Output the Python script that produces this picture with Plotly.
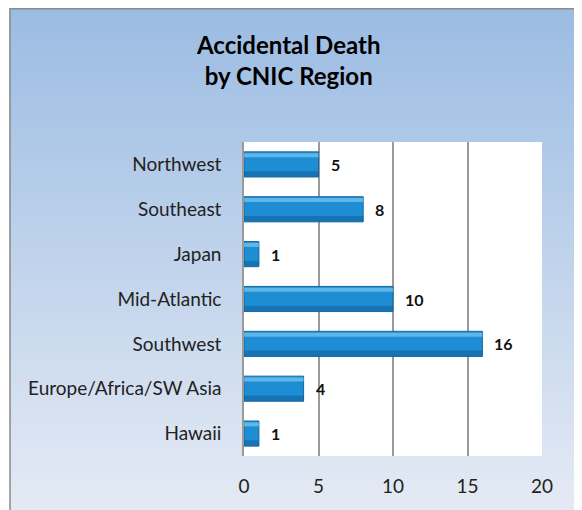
import plotly.graph_objects as go

regions = ["Northwest", "Southeast", "Japan", "Mid-Atlantic", "Southwest",
           "Europe/Africa/SW Asia", "Hawaii"]
deaths = [5, 8, 1, 10, 16, 4, 1]
x_ticks = [0, 5, 10, 15, 20]
title_lines = ["Accidental Death", "by CNIC Region"]

# page has an 8px body margin: figure is sized to fit the window
OFF = 8
W, H = 582 - OFF, 510 - OFF
FONT = "Lato, 'Open Sans', sans-serif"

l, r, t, b = 243.5 - OFF, 582 - 542.5, 142 - OFF, 510 - 456
pw, ph = W - l - r, H - t - b
def px_x(px):
    return (px - l) / pw
def px_y(py):
    return (H - b - py) / ph

fig = go.Figure()

# main bars
fig.add_trace(go.Bar(
    x=deaths, y=regions, orientation="h", width=0.56,
    marker=dict(color="#1e8ed4", line=dict(color="#17679e", width=1)),
    hoverinfo="x+y", showlegend=False))
# top highlight
fig.add_trace(go.Bar(
    x=deaths, y=regions, orientation="h", width=0.09, offset=-0.25,
    marker=dict(color="rgba(150,215,248,0.55)", line=dict(width=0)),
    hoverinfo="skip", showlegend=False))
# lower shade
fig.add_trace(go.Bar(
    x=deaths, y=regions, orientation="h", width=0.12, offset=0.15,
    marker=dict(color="rgba(10,70,120,0.35)", line=dict(width=0)),
    hoverinfo="skip", showlegend=False))

# value labels
for rg, v in zip(regions, deaths):
    fig.add_annotation(x=v, y=rg, text=f"<b>{v}</b>", showarrow=False,
                       xanchor="left", xshift=10,
                       font=dict(family=FONT, size=16, color="#111"))

# background gradient bands (paper coordinates, full figure)
shapes = []
n = 64
top_c = (156, 188, 227)
bot_c = (228, 234, 244)
for i in range(n):
    tt = i / (n - 1)
    c = tuple(int(round(top_c[k] + (bot_c[k] - top_c[k]) * tt)) for k in range(3))
    py0 = H * i / n
    py1 = H * (i + 1) / n + 1
    shapes.append(dict(type="rect", xref="paper", yref="paper",
                       x0=px_x(0), x1=px_x(W), y0=px_y(py1), y1=px_y(py0),
                       fillcolor=f"rgb{c}", line=dict(width=0), layer="below"))
# plot area white
shapes.append(dict(type="rect", xref="paper", yref="paper",
                   x0=0, x1=1, y0=0, y1=1, fillcolor="white",
                   line=dict(width=0), layer="below"))
# outer border
shapes.append(dict(type="rect", xref="paper", yref="paper",
                   x0=px_x(0.75), x1=px_x(572.5), y0=px_y(530), y1=px_y(0.75),
                   line=dict(color="#8c8c8c", width=1.5),
                   fillcolor="rgba(0,0,0,0)", layer="below"))
fig.update_layout(shapes=shapes)

fig.add_annotation(xref="paper", yref="paper", x=px_x(288 - OFF), y=px_y(60.5 - OFF),
                   text="<b>" + "<br>".join(title_lines) + "</b>",
                   showarrow=False, xanchor="center", yanchor="middle",
                   font=dict(family=FONT, size=24, color="#000"))

fig.update_layout(
    width=W, height=H,
    margin=dict(l=l, r=r, t=t, b=b, pad=0, autoexpand=False),
    paper_bgcolor="rgba(0,0,0,0)",
    plot_bgcolor="rgba(0,0,0,0)",
    barmode="overlay",
    bargap=0.44,
    xaxis=dict(range=[0, 20], tickvals=x_ticks, showgrid=True,
               gridcolor="#9a9a9a", gridwidth=1.5, zeroline=False,
               showline=False, ticks="", ticklen=0, automargin=False,
               tickfont=dict(family=FONT, size=19, color="#222"),
               ticklabelstandoff=17),
    yaxis=dict(autorange="reversed", showgrid=False, zeroline=False,
               showline=True, linecolor="#9a9a9a", linewidth=1.5,
               ticks="", ticklabelstandoff=17, automargin=False,
               tickfont=dict(family=FONT, size=19, color="#222")),
    font=dict(family=FONT),
)

fig.write_html("out.html")
